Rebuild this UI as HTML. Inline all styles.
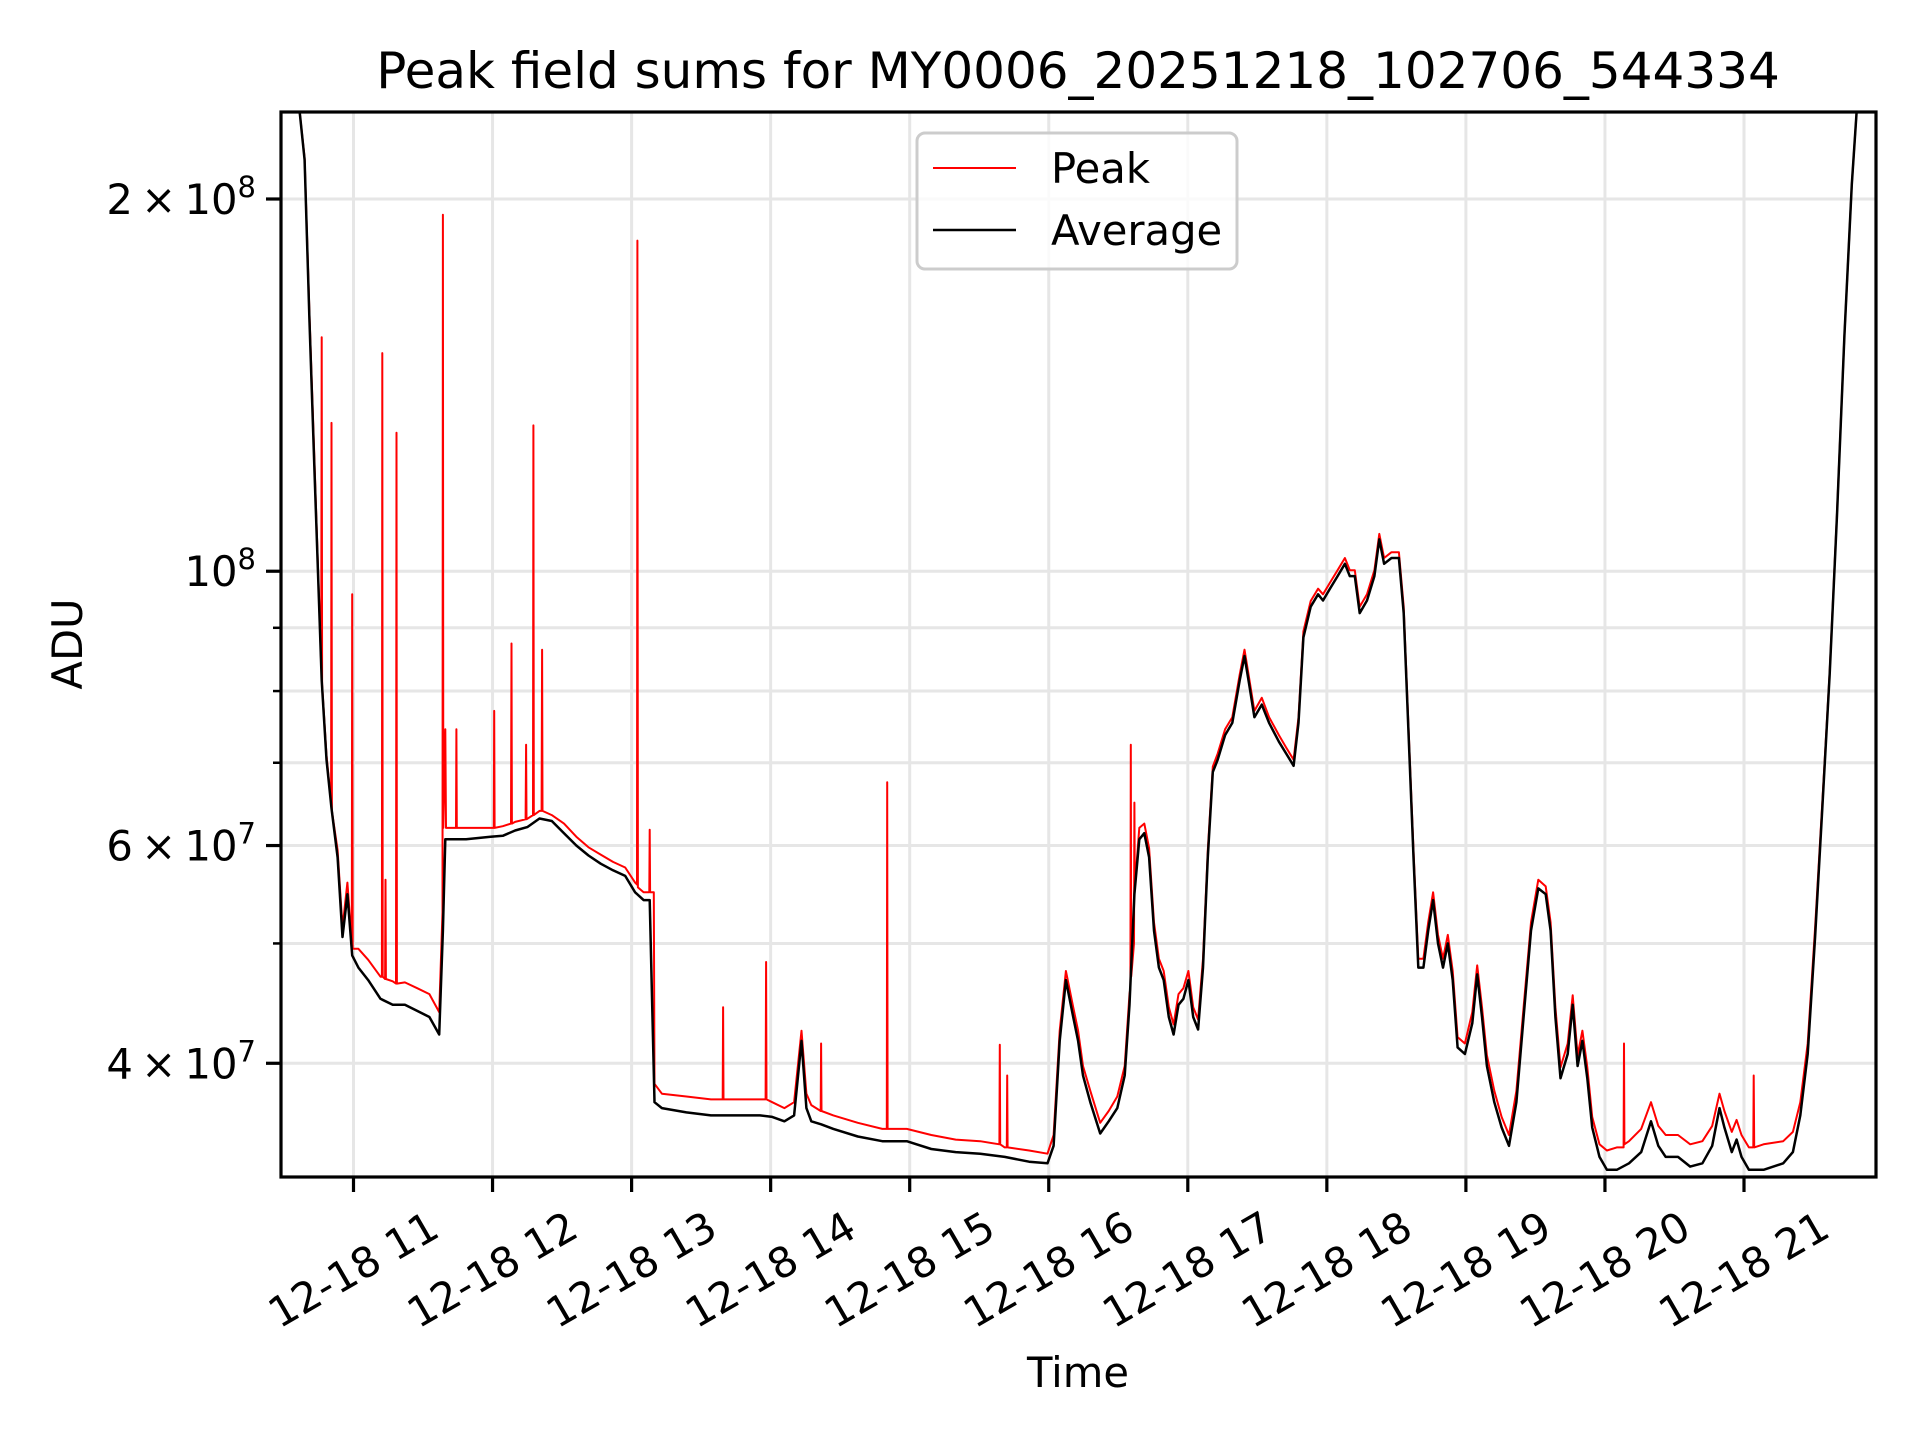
<!DOCTYPE html>
<html><head><meta charset="utf-8"><title>Peak field sums</title>
<style>
html,body{margin:0;padding:0;background:#fff;}
svg{display:block;font-family:"DejaVu Sans","Liberation Sans",sans-serif;}
</style></head>
<body>
<svg id="chart" width="1920" height="1440" viewBox="0 0 1920 1440" xmlns="http://www.w3.org/2000/svg">
  <rect x="0" y="0" width="1920" height="1440" fill="#fff"/>
  <defs><clipPath id="plotclip"><rect x="281" y="112" width="1595" height="1065"/></clipPath></defs>
  <g id="grid"></g>
  <g id="series" clip-path="url(#plotclip)"></g>
  <rect x="281" y="112" width="1595" height="1065" fill="none" stroke="#000" stroke-width="3.2"/>
  <g id="axes"></g>
  <text x="1078" y="88" font-size="50" text-anchor="middle">Peak field sums for MY0006_20251218_102706_544334</text>
  <text x="0" y="0" font-size="41.7" text-anchor="middle" transform="translate(82,644) rotate(-90)">ADU</text>
  <text x="1078" y="1387" font-size="41.7" text-anchor="middle">Time</text>
  <g>
    <rect x="917" y="133" width="320" height="136" rx="8" fill="#fff" fill-opacity="0.8" stroke="#cccccc" stroke-width="3"/>
    <line x1="933" y1="168" x2="1016" y2="168" stroke="#ff0000" stroke-width="2"/>
    <text x="1051" y="183" font-size="41.7">Peak</text>
    <line x1="933" y1="230" x2="1016" y2="230" stroke="#000" stroke-width="2.5"/>
    <text x="1051" y="245" font-size="41.7">Average</text>
  </g>
</svg>
<script>
// Data (hours of day 2025-12-18, values in units of 1e7 ADU)
const xTickHours = [11,12,13,14,15,16,17,18,19,20,21];
const xTickLabels = ["12-18 11","12-18 12","12-18 13","12-18 14","12-18 15","12-18 16","12-18 17","12-18 18","12-18 19","12-18 20","12-18 21"];
const yLabelValues = [20,10,6,4];
const yLabelBase = ["2","","6","4"];
const yLabelExp = ["8","8","7","7"];
const yMinorValues = [5,7,8,9];

const avgHours = [10.45,10.613,10.648,10.683,10.718,10.771,10.806,10.842,10.886,10.921,10.956,10.991,11.035,11.106,11.194,11.282,11.370,11.458,11.546,11.616,11.643,11.660,11.722,11.810,11.986,12.074,12.162,12.250,12.338,12.426,12.514,12.602,12.690,12.778,12.866,12.954,13.025,13.086,13.130,13.165,13.218,13.394,13.570,13.746,13.923,14.011,14.099,14.169,14.222,14.257,14.292,14.363,14.451,14.627,14.803,14.979,15.155,15.331,15.507,15.683,15.859,15.991,16.035,16.079,16.123,16.176,16.211,16.246,16.299,16.370,16.431,16.493,16.546,16.581,16.616,16.651,16.687,16.722,16.757,16.792,16.827,16.863,16.898,16.933,16.968,17.004,17.039,17.074,17.109,17.144,17.180,17.215,17.268,17.320,17.373,17.408,17.444,17.479,17.532,17.585,17.655,17.708,17.761,17.796,17.831,17.884,17.937,17.972,18.025,18.077,18.130,18.165,18.201,18.236,18.289,18.342,18.377,18.412,18.465,18.518,18.553,18.588,18.623,18.658,18.694,18.729,18.764,18.799,18.835,18.870,18.905,18.940,18.993,19.046,19.081,19.116,19.151,19.204,19.257,19.310,19.363,19.415,19.468,19.521,19.574,19.609,19.644,19.680,19.732,19.768,19.803,19.838,19.873,19.908,19.961,20.014,20.085,20.173,20.261,20.331,20.384,20.437,20.525,20.613,20.701,20.771,20.824,20.859,20.912,20.947,20.982,21.035,21.141,21.282,21.352,21.405,21.458,21.511,21.563,21.616,21.669,21.722,21.775,21.810,21.95];
const avgValues = [25,23.51,21.51,16.0,12.17,8.16,7.04,6.43,5.87,5.06,5.48,4.89,4.78,4.67,4.51,4.46,4.46,4.41,4.36,4.22,5.12,6.07,6.07,6.07,6.10,6.11,6.17,6.21,6.31,6.28,6.14,6.00,5.89,5.80,5.73,5.67,5.50,5.42,5.42,3.72,3.68,3.65,3.63,3.63,3.63,3.62,3.59,3.63,4.17,3.68,3.59,3.57,3.54,3.49,3.46,3.46,3.41,3.39,3.38,3.36,3.33,3.32,3.43,4.17,4.67,4.36,4.17,3.91,3.72,3.51,3.59,3.68,3.91,4.46,5.48,6.07,6.14,5.87,5.12,4.78,4.67,4.36,4.22,4.46,4.51,4.67,4.36,4.26,4.78,5.87,6.88,7.04,7.37,7.54,8.16,8.54,8.07,7.62,7.80,7.54,7.28,7.12,6.96,7.54,8.84,9.36,9.58,9.47,9.69,9.91,10.14,9.91,9.91,9.25,9.47,9.91,10.61,10.14,10.25,10.25,9.25,7.37,5.87,4.78,4.78,5.12,5.42,5.00,4.78,5.00,4.67,4.12,4.07,4.31,4.72,4.36,3.98,3.72,3.55,3.43,3.72,4.36,5.12,5.54,5.48,5.12,4.36,3.89,4.07,4.46,3.98,4.17,3.89,3.55,3.36,3.28,3.28,3.32,3.39,3.59,3.43,3.36,3.36,3.30,3.32,3.43,3.68,3.55,3.39,3.47,3.36,3.28,3.28,3.32,3.39,3.63,4.07,5.06,6.43,8.26,11.10,15.5,20.55,23.51,25];

const peakHours = [10.45,10.613,10.648,10.683,10.718,10.768,10.771,10.774,10.806,10.839,10.842,10.845,10.886,10.921,10.956,10.988,10.991,10.994,11.035,11.106,11.194,11.204,11.207,11.210,11.227,11.230,11.233,11.282,11.306,11.309,11.312,11.370,11.458,11.546,11.616,11.640,11.643,11.646,11.660,11.665,11.737,11.740,11.743,11.810,11.986,12.009,12.012,12.015,12.074,12.133,12.136,12.139,12.162,12.238,12.241,12.244,12.291,12.294,12.297,12.338,12.353,12.356,12.359,12.426,12.514,12.602,12.690,12.778,12.866,12.954,13.025,13.039,13.042,13.045,13.086,13.127,13.130,13.133,13.160,13.165,13.218,13.394,13.570,13.655,13.658,13.661,13.746,13.923,13.964,13.967,13.970,14.011,14.099,14.169,14.222,14.257,14.292,14.360,14.363,14.366,14.451,14.627,14.803,14.835,14.838,14.841,14.979,15.155,15.331,15.507,15.645,15.648,15.651,15.683,15.698,15.701,15.704,15.859,15.991,16.035,16.079,16.123,16.176,16.211,16.246,16.299,16.370,16.431,16.493,16.546,16.581,16.587,16.590,16.593,16.613,16.616,16.619,16.651,16.687,16.722,16.757,16.792,16.827,16.863,16.898,16.933,16.968,17.004,17.039,17.074,17.109,17.144,17.180,17.215,17.268,17.320,17.373,17.408,17.444,17.479,17.532,17.585,17.655,17.708,17.761,17.796,17.831,17.884,17.937,17.972,18.025,18.077,18.130,18.165,18.201,18.236,18.289,18.342,18.377,18.412,18.465,18.518,18.553,18.588,18.623,18.658,18.694,18.729,18.764,18.799,18.835,18.870,18.905,18.940,18.993,19.046,19.081,19.116,19.151,19.204,19.257,19.310,19.363,19.415,19.468,19.521,19.574,19.609,19.644,19.680,19.732,19.768,19.803,19.838,19.873,19.908,19.961,20.014,20.085,20.134,20.137,20.140,20.173,20.261,20.331,20.384,20.437,20.525,20.613,20.701,20.771,20.824,20.859,20.912,20.947,20.982,21.035,21.067,21.070,21.073,21.141,21.282,21.352,21.405,21.458,21.511,21.563,21.616,21.669,21.722,21.775,21.810,21.95];
const peakValues = [25,23.51,21.6,16.2,12.4,8.4,15.46,8.1,7.1,6.5,13.18,6.4,5.95,5.15,5.6,5.0,9.58,4.95,4.95,4.85,4.70,4.70,15.01,4.70,4.68,5.63,4.68,4.66,4.64,12.94,4.64,4.65,4.60,4.55,4.40,5.3,19.42,6.2,7.45,6.2,6.2,7.45,6.2,6.2,6.2,6.2,7.71,6.2,6.22,6.25,8.74,6.25,6.27,6.3,7.24,6.3,6.35,13.12,6.35,6.4,6.4,8.64,6.4,6.35,6.25,6.10,5.98,5.90,5.82,5.76,5.60,5.58,18.51,5.55,5.5,5.5,6.18,5.5,5.5,3.85,3.78,3.76,3.74,3.74,4.44,3.74,3.74,3.74,3.74,4.83,3.74,3.72,3.68,3.72,4.25,3.78,3.70,3.66,4.15,3.66,3.63,3.58,3.54,3.54,6.75,3.54,3.54,3.50,3.47,3.46,3.44,4.14,3.44,3.42,3.42,3.91,3.42,3.40,3.38,3.50,4.25,4.75,4.44,4.25,3.98,3.80,3.58,3.66,3.76,3.98,4.55,4.6,7.24,4.7,5.0,6.50,5.55,6.2,6.25,5.97,5.2,4.86,4.75,4.44,4.3,4.55,4.6,4.75,4.44,4.34,4.86,5.95,6.95,7.12,7.45,7.62,8.25,8.64,8.16,7.71,7.9,7.62,7.37,7.2,7.04,7.62,8.94,9.46,9.68,9.58,9.8,10.02,10.25,10.02,10.02,9.36,9.58,10.02,10.72,10.25,10.36,10.36,9.36,7.45,5.95,4.86,4.86,5.2,5.5,5.08,4.86,5.08,4.75,4.2,4.15,4.4,4.8,4.44,4.06,3.8,3.62,3.5,3.8,4.44,5.2,5.63,5.56,5.2,4.44,3.97,4.15,4.54,4.06,4.25,3.97,3.62,3.44,3.40,3.42,3.42,4.15,3.44,3.46,3.54,3.72,3.56,3.50,3.50,3.44,3.46,3.56,3.78,3.66,3.52,3.60,3.50,3.42,3.42,3.91,3.42,3.44,3.46,3.52,3.72,4.15,5.15,6.5,8.3,11.15,15.5,20.55,23.51,25];

const NS = "http://www.w3.org/2000/svg";
const PX_PER_HOUR = 139.05, HOUR11_X = 353.5;
const PX_PER_DECADE = 1236.5, REF_Y = 199, REF_V = 20;
function xScale(h){ return HOUR11_X + (h - 11) * PX_PER_HOUR; }
function yScale(v){ return REF_Y + (Math.log10(REF_V) - Math.log10(v)) * PX_PER_DECADE; }
function mk(tag, attrs, parent){
  const el = document.createElementNS(NS, tag);
  for (const k in attrs) el.setAttribute(k, attrs[k]);
  parent.appendChild(el);
  return el;
}
const grid = document.getElementById('grid');
const axes = document.getElementById('axes');
const series = document.getElementById('series');

// vertical grid + x ticks
xTickHours.forEach((h, i) => {
  const x = xScale(h);
  const g = mk('line', {x1:x, y1:112, x2:x, y2:1177, stroke:'#e6e6e6', 'stroke-width':3}, grid);
  
  
  const t = mk('line', {x1:x, y1:1177, x2:x, y2:1192, stroke:'#000', 'stroke-width':3.2}, axes);
  
  
  const lbl = mk('text', {x:0, y:14, 'font-size':41.7, 'text-anchor':'middle', transform:`translate(${x},1270) rotate(-30)`}, axes);
  lbl.textContent = xTickLabels[i];
  
  
});

// horizontal grid + y ticks
yLabelValues.forEach((v, i) => {
  const y = yScale(v);
  const g = mk('line', {x1:281, y1:y, x2:1876, y2:y, stroke:'#e6e6e6', 'stroke-width':3}, grid);
  
  
  const t = mk('line', {x1:266, y1:y, x2:281, y2:y, stroke:'#000', 'stroke-width':3.2}, axes);
  
  
  const lbl = mk('text', {x:256, y:y+15, 'font-size':41.7, 'text-anchor':'end'}, axes);
  
  
  const main = yLabelBase[i] ? yLabelBase[i] + '\u2009\u00d7\u200910' : '10';
  const s1 = mk('tspan', {}, lbl); s1.textContent = main;
  const s2 = mk('tspan', {'font-size':29, dy:-17}, lbl); s2.textContent = yLabelExp[i];
});
yMinorValues.forEach(v => {
  const y = yScale(v);
  const g = mk('line', {x1:281, y1:y, x2:1876, y2:y, stroke:'#e6e6e6', 'stroke-width':3}, grid);
  
  
  const t = mk('line', {x1:273, y1:y, x2:281, y2:y, stroke:'#000', 'stroke-width':2.5}, axes);
  
  
});

function pathFrom(hours, vals){
  return hours.map((h, i) => (i ? 'L' : 'M') + xScale(h).toFixed(1) + ',' + yScale(vals[i]).toFixed(1)).join(' ');
}
const peak = mk('path', {d:pathFrom(peakHours, peakValues), fill:'none', stroke:'#ff0000', 'stroke-width':2, 'stroke-linejoin':'round'}, series);


const avg = mk('path', {d:pathFrom(avgHours, avgValues), fill:'none', stroke:'#000', 'stroke-width':2.5, 'stroke-linejoin':'round'}, series);


</script>
</body></html>
